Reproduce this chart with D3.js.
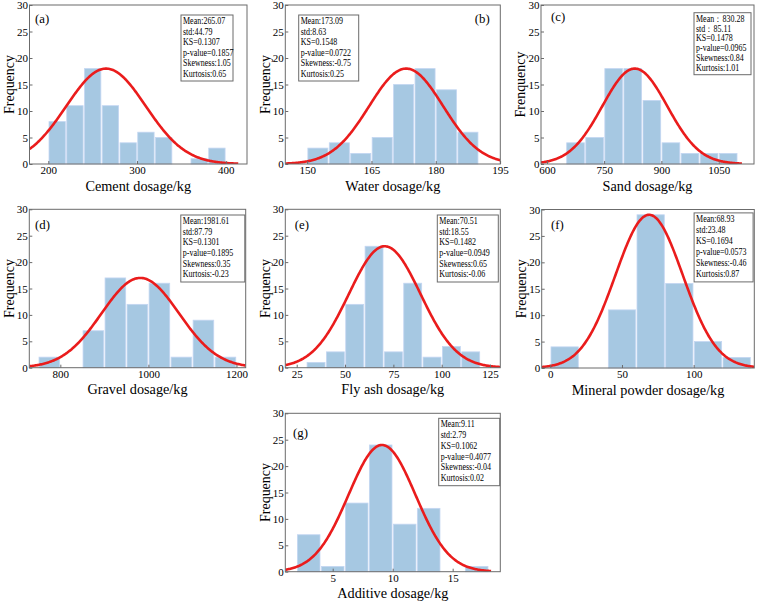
<!DOCTYPE html>
<html>
<head>
<meta charset="utf-8">
<script src="https://cdn.jsdelivr.net/npm/d3@7/dist/d3.min.js"></script>
<style>
  body { margin: 0; background: #fff; }
  svg { display: block; }
  text { font-family: "Liberation Serif", "Times New Roman", serif; fill: #000; }
</style>
</head>
<body>
<svg id="chart" width="759" height="601"></svg>
<script>
'use strict';

// panel tags and axis titles
var panelTags = ['(a)', '(b)', '(c)', '(d)', '(e)', '(f)', '(g)'];
var xTitles = ['Cement dosage/kg', 'Water dosage/kg', 'Sand dosage/kg', 'Gravel dosage/kg',
  'Fly ash dosage/kg', 'Mineral powder dosage/kg', 'Additive dosage/kg'];
var yTitles = ['Frequency', 'Frequency', 'Frenquency', 'Frequency', 'Frequency', 'Frequency', 'Frequency'];

// histogram bin edges and counts
var cementBins = [200, 220, 240, 260, 280, 300, 320, 340, 360, 380, 400];
var cementFreq = [8, 11, 18, 11, 4, 6, 5, 0, 1, 3];
var waterBins = [150, 155, 160, 165, 170, 175, 180, 185, 190];
var waterFreq = [3, 4, 2, 5, 15, 18, 14, 6];
var sandBins = [650, 700, 750, 800, 850, 900, 950, 1000, 1050, 1100];
var sandFreq = [4, 5, 18, 18, 12, 4, 2, 2, 2];
var gravelBins = [750, 800, 850, 900, 950, 1000, 1050, 1100, 1150, 1200];
var gravelFreq = [2, 0, 7, 17, 12, 16, 2, 9, 2];
var flyashBins = [30, 40, 50, 60, 70, 80, 90, 100, 110, 120];
var flyashFreq = [1, 3, 12, 23, 3, 16, 2, 4, 3];
var mineralBins = [0, 20, 40, 60, 80, 100, 120, 140];
var mineralFreq = [4, 0, 11, 29, 16, 5, 2];
var additiveBins = [2, 4, 6, 8, 10, 12, 14, 16, 18];
var additiveFreq = [7, 1, 13, 24, 9, 12, 0, 1];

var allBins = [cementBins, waterBins, sandBins, gravelBins, flyashBins, mineralBins, additiveBins];
var allFreq = [cementFreq, waterFreq, sandFreq, gravelFreq, flyashFreq, mineralFreq, additiveFreq];

// fitted normal curves
var fitMean = [265.07, 173.09, 830.28, 981.61, 70.51, 68.93, 9.11];
var fitStd = [44.79, 8.63, 85.11, 87.79, 18.55, 23.48, 2.79];
var fitPeak = [18, 18, 18, 17, 23, 29, 24];
var fitRange = [[178.8, 414], [144.9, 195.05], [584.5, 1111], [729.5, 1221], [19.1, 130.3], [-6, 142.3], [1.05, 18.2]];

// axis ranges and ticks
var xRanges = [[178.8, 423.9], [144.9, 195.05], [584.5, 1142.7], [729.5, 1221], [19.1, 130.3], [-6, 142.3], [1.05, 18.97]];
var xTicks = [[200, 300, 400], [150, 165, 180, 195], [600, 750, 900, 1050], [800, 1000, 1200],
  [25, 50, 75, 100, 125], [0, 50, 100], [5, 10, 15]];
var yRange = [0, 30];
var yTicks = [0, 5, 10, 15, 20, 25, 30];

// statistics boxes
var statLines = [
  ['Mean:265.07', 'std:44.79', 'KS=0.1307', 'p-value=0.1857', 'Skewness:1.05', 'Kurtosis:0.65'],
  ['Mean:173.09', 'std:8.63', 'KS=0.1548', 'p-value=0.0722', 'Skewness:-0.75', 'Kurtosis:0.25'],
  ['Mean：830.28', 'std：85.11', 'KS=0.1478', 'p-value=0.0965', 'Skewness:0.84', 'Kurtosis:1.01'],
  ['Mean:1981.61', 'std:87.79', 'KS=0.1301', 'p-value=0.1895', 'Skewness:0.35', 'Kurtosis:-0.23'],
  ['Mean:70.51', 'std:18.55', 'KS=0.1482', 'p-value=0.0949', 'Skewness:0.65', 'Kurtosis:-0.06'],
  ['Mean:68.93', 'std:23.48', 'KS=0.1694', 'p-value=0.0573', 'Skewness:-0.46', 'Kurtosis:0.87'],
  ['Mean:9.11', 'std:2.79', 'KS=0.1062', 'p-value=0.4077', 'Skewness:-0.04', 'Kurtosis:0.02']
];

// layout: plot rectangles [left, right, top, bottom]
var plotBoxes = [
  [29.5, 247, 5, 164], [285.3, 500.3, 5, 164], [541, 754, 5, 164],
  [29.3, 245.7, 209.3, 367.7], [285.3, 500.3, 209.3, 367.7], [541.7, 754.3, 209.5, 368],
  [285.3, 500.3, 413.3, 571.7]
];
// stats box offsets from plot corner [dx, dy, w, h]
var statBoxes = [
  [151.5, 10, 52, 66], [13.4, 10, 60, 66], [153, 7.7, 57, 62],
  [151.5, 5.7, 64, 67], [152, 5.7, 61, 67], [152.4, 3.4, 59, 69], [153.4, 5, 61, 67.4]
];
// tag position [dx from left (or from right if negative), dy baseline]
var tagPos = [[5.5, 17.7], [-10.6, 18], [10, 15.7], [5.7, 20], [9.4, 20], [9.3, 19.3], [7.7, 24]];

var svg = d3.select('#chart');
var frameColor = '#6b6b6b';
var barFill = '#a6c8e2';
var barStroke = '#c4d6f2';
var curveColor = '#ea1c1c';
var fmt = d3.format('d');

// text squeezed a little horizontally, like the source figure
function label(g, x, y, str, size, anchor, rot, sx) {
  var t = 'translate(' + x + ',' + y + ')';
  if (rot) t += ' rotate(' + rot + ')';
  t += ' scale(' + sx + ',1)';
  return g.append('text')
    .attr('transform', t)
    .attr('text-anchor', anchor)
    .attr('font-size', size)
    .text(str);
}

panelTags.forEach(function(tag, i) {
  var box = plotBoxes[i];
  var x = d3.scaleLinear().domain(xRanges[i]).range([box[0], box[1]]);
  var y = d3.scaleLinear().domain(yRange).range([box[3], box[2]]);
  var g = svg.append('g');

  var clipId = 'clip' + i;
  svg.append('clipPath').attr('id', clipId).append('rect')
    .attr('x', box[0]).attr('y', box[2]).attr('width', box[1] - box[0]).attr('height', box[3] - box[2]);

  // bars
  var bins = allBins[i];
  allFreq[i].forEach(function(d, j) {
    if (d <= 0) return;
    g.append('rect')
      .attr('x', x(bins[j]) + 0.7)
      .attr('y', y(d))
      .attr('width', x(bins[j + 1]) - x(bins[j]) - 1.4)
      .attr('height', y(0) - y(d))
      .attr('fill', barFill)
      .attr('stroke', barStroke)
      .attr('stroke-width', 0.8);
  });

  // fitted normal curve
  var m = fitMean[i], s = fitStd[i], pk = fitPeak[i];
  var xs = d3.range(0, 241).map(function(k) {
    return fitRange[i][0] + (fitRange[i][1] - fitRange[i][0]) * k / 240;
  });
  var line = d3.line()
    .x(function(v) { return x(v); })
    .y(function(v) { return y(pk * Math.exp(-0.5 * Math.pow((v - m) / s, 2))); });
  g.append('path').datum(xs)
    .attr('d', line)
    .attr('fill', 'none')
    .attr('stroke', curveColor)
    .attr('stroke-width', 2.6)
    .attr('clip-path', 'url(#' + clipId + ')');

  // frame
  g.append('rect')
    .attr('x', box[0]).attr('y', box[2])
    .attr('width', box[1] - box[0]).attr('height', box[3] - box[2])
    .attr('fill', 'none').attr('stroke', frameColor).attr('stroke-width', 1);

  // y ticks
  var yAxis = d3.axisLeft(y).tickValues(yTicks).tickFormat(fmt).tickSizeInner(-3).tickSizeOuter(0).tickPadding(1.5);
  var ya = g.append('g').attr('transform', 'translate(' + box[0] + ',0)').call(yAxis);
  ya.select('.domain').remove();
  ya.selectAll('line').attr('stroke', frameColor);
  ya.selectAll('text').attr('font-size', 11).style('font-family', '"Liberation Serif", serif');

  // x ticks
  var xAxis = d3.axisBottom(x).tickValues(xTicks[i]).tickFormat(fmt).tickSizeInner(-3).tickSizeOuter(0).tickPadding(2.5);
  var xa = g.append('g').attr('transform', 'translate(0,' + box[3] + ')').call(xAxis);
  xa.select('.domain').remove();
  xa.selectAll('line').attr('stroke', frameColor);
  xa.selectAll('text').attr('font-size', 11).style('font-family', '"Liberation Serif", serif');

  // axis titles
  label(g, (box[0] + box[1]) / 2, box[3] + 26.5, xTitles[i], 15.5, 'middle', 0, 0.92);
  label(g, box[0] - 15.8, (box[2] + box[3]) / 2, yTitles[i], 15, 'middle', -90, 0.93);

  // panel tag
  var tp = tagPos[i];
  label(g, tp[0] >= 0 ? box[0] + tp[0] : box[1] + tp[0], box[2] + tp[1], tag, 13.5,
    tp[0] >= 0 ? 'start' : 'end', 0, 0.95);

  // stats box
  var sb = statBoxes[i];
  var bx = box[0] + sb[0], by = box[2] + sb[1];
  g.append('rect')
    .attr('x', bx).attr('y', by).attr('width', sb[2]).attr('height', sb[3])
    .attr('fill', '#fff').attr('stroke', frameColor).attr('stroke-width', 1);
  var step = (sb[3] - 3) / statLines[i].length;
  statLines[i].forEach(function(d, j) {
    label(g, bx + 2, by + 9 + j * step, d, 9.3, 'start', 0, 0.86);
  });
});
</script>
</body>
</html>
